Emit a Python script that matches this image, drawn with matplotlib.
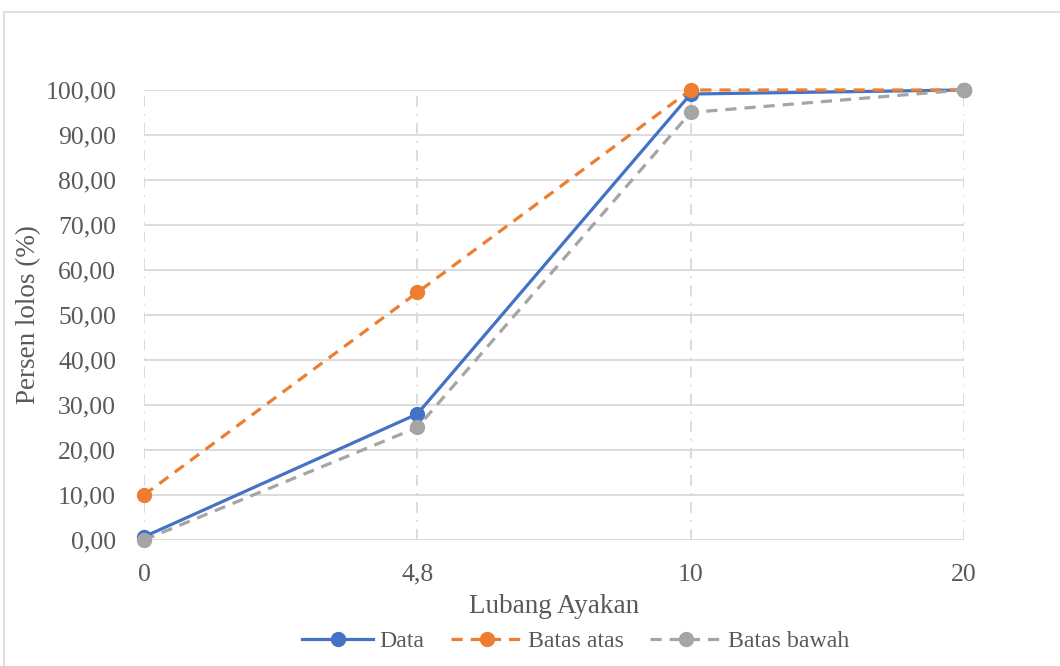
import numpy as np
import matplotlib.pyplot as plt
from matplotlib.patches import Rectangle

# ukuran lubang ayakan (kategori) dan persen lolos
lubang = ["0", "4,8", "10", "20"]
data = [0.7, 28.0, 99.1, 100.0]
batas_atas = [10.0, 55.0, 100.0, 100.0]
batas_bawah = [0.0, 25.0, 95.0, 100.0]
yticks = np.arange(0, 101, 10)

plt.rcParams['font.family'] = ['Liberation Serif', 'DejaVu Serif']
teks = "#595959"
grid = "#d9d9d9"
fs = 18.5

fig = plt.figure(figsize=(10.6, 6.66), dpi=100)
ax = fig.add_axes([0.1358, 0.1892, 0.7736, 0.6757])

# bingkai luar area grafik
fig.patches.append(Rectangle((4 / 1060, -0.1), 1.2, 1 - 12 / 666 + 0.1,
                             transform=fig.transFigure, fill=False,
                             edgecolor=grid, linewidth=1.2, zorder=0))

x = np.arange(len(lubang))
ax.plot(x, data, color="#4472c4", linewidth=2.3, marker="o",
        markersize=10, label="Data", clip_on=False)
ax.plot(x, batas_atas, color="#ed7d31", linewidth=2.3, linestyle=(0, (3.5, 2.5)),
        marker="o", markersize=10, label="Batas atas", clip_on=False)
ax.plot(x, batas_bawah, color="#a5a5a5", linewidth=2.3, linestyle=(0, (3.5, 2.5)),
        marker="o", markersize=10, label="Batas bawah", clip_on=False)

ax.set_xlim(0, len(lubang) - 1)
ax.set_ylim(0, 100)
ax.set_xticks(x)
ax.set_xticklabels(lubang)
ax.set_yticks(yticks)
ax.set_yticklabels([f"{v:.2f}".replace(".", ",") for v in yticks])

ax.grid(axis="y", color=grid, linewidth=1.3)
ax.grid(axis="x", color=grid, linewidth=1.3, linestyle=(0, (6, 4, 1, 4)))
ax.set_axisbelow(True)
for s in ax.spines.values():
    s.set_visible(False)
ax.tick_params(length=0, labelsize=fs, colors=teks)
ax.tick_params(axis="x", pad=17)
ax.tick_params(axis="y", pad=20)

ax.set_xlabel("Lubang Ayakan", fontsize=19.5, color=teks, labelpad=6)
ax.set_ylabel("Persen lolos (%)", fontsize=19.5, color=teks, labelpad=3)

fig.legend(loc="center", bbox_to_anchor=(0.543, 0.037), ncol=3, frameon=False,
           fontsize=17.2, labelcolor=teks, handlelength=3.0, columnspacing=1.1,
           handletextpad=0.25)

fig.savefig("out.png", dpi=100)
